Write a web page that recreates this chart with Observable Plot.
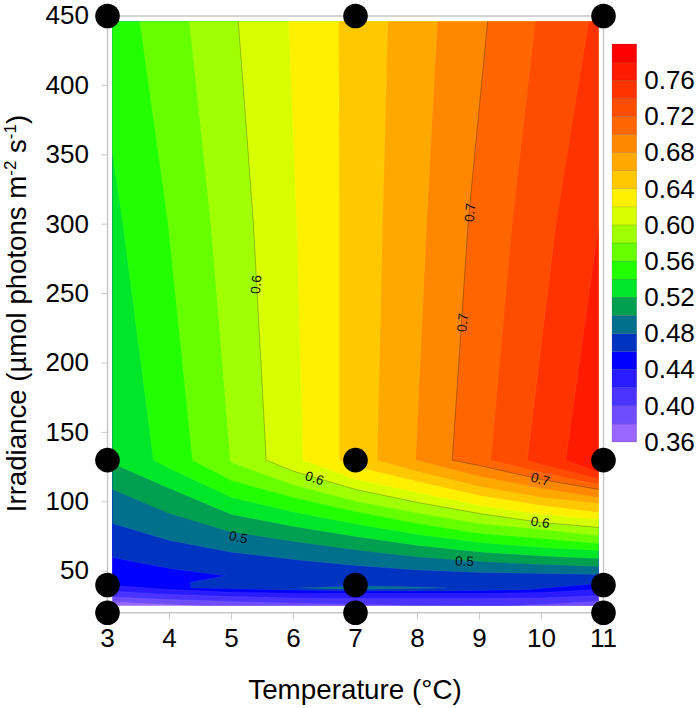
<!DOCTYPE html>
<html>
<head>
<meta charset="utf-8">
<script src="https://cdn.jsdelivr.net/npm/d3@7"></script>
<script src="https://cdn.jsdelivr.net/npm/@observablehq/plot@0.6"></script>
<style>
  html, body { margin: 0; padding: 0; background: #fff; }
  #wrap { position: relative; width: 700px; height: 708px; overflow: hidden; }
  #wrap svg { position: absolute; left: 0; top: 0; }
</style>
</head>
<body>
<div id="wrap"></div>
<script>
const FONT = "'Liberation Sans', Arial, sans-serif";

// Contour isolines: [temperature, irradiance]
const iso36 = [[3.08,25],[10.92,25]];
const iso38 = [[3.08,27.7],[4,26],[4.5,25],[10.92,25]];
const iso40 = [[3.08,31.3],[4,29.6],[5,28.2],[6,26.9],[7,26],[8,25.3],[9,25],[9.5,25],[10,26],[10.92,28.4]];
const iso42 = [[3.08,35.6],[4,33.2],[5,31.7],[6,30.7],[7,30.3],[8,30.3],[9,30.3],[10,30.7],[10.92,32.5]];
const iso44 = [[3.08,39.7],[4,36.8],[5,34.8],[6,34.1],[7,33.9],[8,33.9],[9,33.9],[10,34.6],[10.92,36.8]];
const iso46 = [[3.08,59.8],[4,52],[4.9,46.7],[4.34,42],[4.34,38],[5.71,36.6],[7,35.7],[8,35.7],[9,36.1],[9.82,36.8],[10.17,38.2],[10.92,41.1]];
const iso48 = [[3.08,84.3],[4,72.1],[5,63.7],[6,58.4],[7,54.1],[8,50.9],[9,49],[10,48.3],[10.92,47.6]];
const iso48b = [[6.06,37.9],[7,39.3],[7.73,39],[8.48,37.9],[7.73,37.4],[7,37],[6.44,37.4]];
const iso50 = [[3.08,108.9],[4,91.5],[5,78.1],[6,71.4],[7,65.2],[8,60.2],[9,56.9],[10,54.8],[10.92,53.4]];
const iso52 = [[3.08,127.6],[4,109.6],[5,90.8],[6,82.2],[7,74.9],[8,68.5],[9,63.8],[10,60.9],[10.92,59.1]];
const iso54 = [[3.08,351],[3.24,303],[3.74,130],[4,124],[5,103.1],[6,92.6],[7,84],[8,76.4],[9,70.7],[10,67.1],[10.92,64.9]];
const iso56 = [[3.52,446],[3.97,303],[4.37,130],[5,115.3],[6,103],[7,92.9],[8,84.3],[9,77.2],[10,73.5],[10.92,69.9]];
const iso58 = [[4.32,446],[4.66,303],[4.98,130],[5,128.3],[6,112],[7,100.4],[8,91.9],[9,84.3],[10,80],[10.92,75.7]];
const iso60 = [[5.11,446],[5.35,303],[5.56,130],[6,122],[7,108.9],[8,99.5],[9,91.5],[10,85.1],[10.92,81.5]];
const iso62 = [[5.92,446],[6.05,303],[6.15,130],[7,116],[8,106.7],[9,97.3],[10,90.8],[10.92,87.2]];
const iso64 = [[6.73,446],[6.74,303],[6.74,130],[7,125.4],[8,114.6],[9,104.5],[10,97.3],[10.92,92.3]];
const iso66 = [[7.52,446],[7.44,303],[7.35,130],[8,121.8],[9,111],[10,103.1],[10.92,98.8]];
const iso68 = [[8.32,446],[8.15,303],[7.97,130],[8,129.7],[9,118.2],[10,109.6],[10.92,103.1]];
const iso70 = [[9.13,446],[8.82,303],[8.56,130],[9,126.1],[10,116],[10.92,108.9]];
const iso72 = [[9.9,446],[9.53,303],[9.18,130],[10,121.1],[10.92,112.4]];
const iso74 = [[10.76,446],[10.24,303],[9.77,130],[10,126.8],[10.92,116.4]];
const iso76 = [[10.92,299],[10.39,130],[10.92,121.1]];

const legendLevels = [0.36,0.38,0.40,0.42,0.44,0.46,0.48,0.50,0.52,0.54,0.56,0.58,0.60,0.62,0.64,0.66,0.68,0.70,0.72,0.74,0.76,0.78];
const bandColors = ["#9966ff","#6e4dff","#4a33ff","#2a1aff","#0000ff","#0033c0","#00708c","#00a050","#00e628","#22ff00","#66ff00","#a0ff00","#d8ff00","#fff000","#ffc800","#ffa800","#ff8800","#ff6600","#ff4d00","#ff3300","#ff1a00","#ff0000"];
const isolines = [iso36,iso38,iso40,iso42,iso44,iso46,iso48,iso50,iso52,iso54,iso56,iso58,iso60,iso62,iso64,iso66,iso68,iso70,iso72,iso74,iso76];

const xTicks = [3,4,5,6,7,8,9,10,11];
const yTicks = [50,100,150,200,250,300,350,400,450];
const legendTicks = [0.36,0.40,0.44,0.48,0.52,0.56,0.60,0.64,0.68,0.72,0.76];

const dotTemps = [3,7,11];
const dotIrrad = [20,40,130,450];
const dots = dotTemps.flatMap(t => dotIrrad.map(i => [t,i]));

const contourLabels = [
  {x:5.40,y:256.5,t:"0.6",r:-85},
  {x:8.85,y:308.4,t:"0.7",r:-85},
  {x:8.73,y:229.2,t:"0.7",r:-85},
  {x:6.34,y:116.8,t:"0.6",r:17},
  {x:9.98,y:116,t:"0.7",r:15},
  {x:9.98,y:85.1,t:"0.6",r:8},
  {x:5.11,y:74.2,t:"0.5",r:12},
  {x:8.76,y:57,t:"0.5",r:2}
];

const xTitle = "Temperature (°C)";
const yTitleParts = [["Irradiance (µmol photons m",0],["-2",1],[" s",0],["-1",1],[")",0]];

const xMin = 3.08, xMax = 10.92, yTop = 446;

function region(path, i) {
  // region above an isoline, closed along the top of the data area
  const pts = path.slice();
  if (i === 0) { pts.push([xMax,yTop],[xMin,yTop]); return pts; }
  pts.push([xMax,yTop]);
  if (path[0][0] === xMin) pts.push([xMin,yTop]);
  return pts;
}

const bandMarks = isolines.map((p,i) =>
  Plot.line(region(p,i), {fill: bandColors[i], stroke: "#fff", strokeOpacity: 0.15, strokeWidth: 0.4})
);
bandMarks.splice(7, 0, Plot.line(iso48b, {fill: bandColors[6], stroke: "#fff", strokeOpacity: 0.15, strokeWidth: 0.4}));

const chart = Plot.plot({
  width: 700, height: 708,
  marginLeft: 107, marginRight: 97, marginTop: 15.5, marginBottom: 95.7,
  style: {fontFamily: FONT, background: "transparent", overflow: "visible"},
  x: {domain: [3,11], ticks: xTicks},
  y: {domain: [20,450], ticks: yTicks},
  marks: [
    ...bandMarks,
    Plot.line(iso50, {stroke:"#000", strokeOpacity:0.1, strokeWidth:0.5}),
    Plot.line(iso60, {stroke:"#000", strokeOpacity:0.5, strokeWidth:0.5}),
    Plot.line(iso70, {stroke:"#000", strokeOpacity:0.6, strokeWidth:0.5}),
    Plot.text(contourLabels, {x:"x", y:"y", text:"t", rotate:"r", fontSize:13.5, fill:"#111"}),
    Plot.frame({stroke:"#c8c8c8", strokeWidth:1.5}),
    Plot.axisX({ticks:xTicks, tickSize:7, tickPadding:9, fontSize:26, stroke:"#c8c8c8", fill:"#000", label:null, tickFormat:d=>String(d)}),
    Plot.axisY({ticks:yTicks, tickSize:5.5, tickPadding:13, fontSize:26, stroke:"#c8c8c8", fill:"#000", label:null, tickFormat:d=>String(d)}),
    Plot.dot(dots, {r:12.3, fill:"#000", stroke:"none"})
  ]
});
document.getElementById("wrap").appendChild(chart);

const svg = d3.select(chart);
svg.append("text")
  .attr("x", 355).attr("y", 699)
  .attr("text-anchor","middle")
  .attr("font-size",27.8).attr("font-family",FONT).attr("fill","#000")
  .text(xTitle);
const yt = svg.append("text")
  .attr("transform","translate(26,313.5) rotate(-90)")
  .attr("text-anchor","middle")
  .attr("font-size",27.6).attr("font-family",FONT).attr("fill","#000");
yTitleParts.forEach(([s,sup]) => {
  const t = yt.append("tspan").text(s);
  if (sup) t.attr("font-size",17).attr("dy",-10);
  else if (s !== yTitleParts[0][0]) t.attr("dy",10);
});

const legendData = legendLevels.map((v,i) => ({v0:v, v1:v+0.02, c:bandColors[i]}));
const legend = Plot.plot({
  width: 700, height: 708,
  marginLeft: 612, marginRight: 63.3, marginTop: 44, marginBottom: 266,
  style: {fontFamily: FONT, background: "transparent"},
  x: {domain:[0,1], axis:null},
  y: {domain:[0.36,0.80], ticks: legendTicks, axis:null},
  marks: [
    Plot.rect(legendData, {x1:0, x2:1, y1:"v0", y2:"v1", fill:d=>d.c, stroke:"#000", strokeOpacity:0.18, strokeWidth:0.6}),
    Plot.axisY({anchor:"right", ticks:legendTicks, tickSize:0, tickPadding:7, fontSize:26, label:null, tickFormat:d=>d.toFixed(2)})
  ],
  color: {type:"identity"}
});
document.getElementById("wrap").appendChild(legend);
</script>
</body>
</html>
